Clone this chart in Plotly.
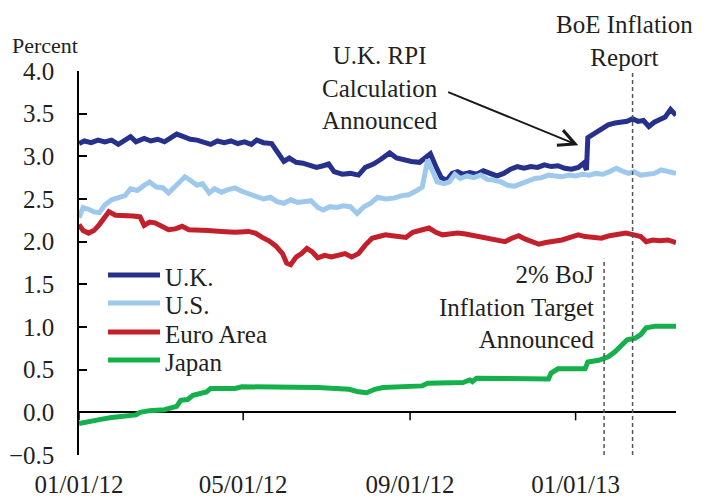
import plotly.graph_objects as go

# ---------------- data ----------------
uk_dates = ["2012-01-01","2012-01-05","2012-01-10","2012-01-15","2012-01-20","2012-01-25","2012-01-30","2012-02-04","2012-02-08","2012-02-12","2012-02-18","2012-02-23","2012-02-28","2012-03-04","2012-03-08","2012-03-13","2012-03-18","2012-03-23","2012-03-28","2012-04-02","2012-04-07","2012-04-12","2012-04-17","2012-04-22","2012-04-27","2012-05-02","2012-05-07","2012-05-11","2012-05-16","2012-05-22","2012-05-26","2012-05-31","2012-06-04","2012-06-09","2012-06-14","2012-06-19","2012-06-24","2012-06-29","2012-07-03","2012-07-07","2012-07-13","2012-07-19","2012-07-25","2012-07-30","2012-08-05","2012-08-10","2012-08-17","2012-08-22","2012-08-27","2012-09-02","2012-09-08","2012-09-13","2012-09-16","2012-09-20","2012-09-24","2012-09-28","2012-10-02","2012-10-06","2012-10-10","2012-10-15","2012-10-20","2012-10-25","2012-10-30","2012-11-04","2012-11-09","2012-11-14","2012-11-19","2012-11-24","2012-11-29","2012-12-04","2012-12-09","2012-12-14","2012-12-19","2012-12-24","2012-12-29","2013-01-03","2013-01-07","2013-01-09","2013-01-10","2013-01-13","2013-01-17","2013-01-21","2013-01-25","2013-01-30","2013-02-04","2013-02-08","2013-02-12","2013-02-16","2013-02-20","2013-02-24","2013-02-28","2013-03-04","2013-03-08","2013-03-12","2013-03-14","2013-03-16"]
uk_values = [3.15,3.18,3.16,3.19,3.17,3.19,3.14,3.20,3.23,3.17,3.21,3.18,3.20,3.17,3.21,3.26,3.23,3.20,3.19,3.17,3.14,3.18,3.16,3.18,3.15,3.17,3.14,3.19,3.16,3.15,3.06,2.94,2.98,2.93,2.92,2.90,2.87,2.89,2.91,2.82,2.79,2.80,2.78,2.87,2.91,2.96,3.04,2.98,2.96,2.94,2.93,3.00,3.03,2.88,2.75,2.72,2.80,2.82,2.79,2.81,2.79,2.83,2.80,2.77,2.80,2.85,2.88,2.86,2.88,2.87,2.90,2.88,2.89,2.86,2.85,2.87,2.92,2.84,3.22,3.25,3.30,3.33,3.37,3.39,3.40,3.41,3.44,3.41,3.42,3.35,3.40,3.43,3.46,3.55,3.51,3.48]

us_dates = ["2012-01-01","2012-01-04","2012-01-08","2012-01-12","2012-01-16","2012-01-20","2012-01-25","2012-01-30","2012-02-04","2012-02-08","2012-02-13","2012-02-18","2012-02-22","2012-02-27","2012-03-03","2012-03-07","2012-03-11","2012-03-15","2012-03-19","2012-03-23","2012-03-28","2012-04-01","2012-04-06","2012-04-10","2012-04-15","2012-04-20","2012-04-25","2012-04-30","2012-05-05","2012-05-10","2012-05-16","2012-05-21","2012-05-26","2012-05-31","2012-06-05","2012-06-10","2012-06-15","2012-06-20","2012-06-25","2012-06-29","2012-07-04","2012-07-09","2012-07-14","2012-07-19","2012-07-24","2012-07-29","2012-08-03","2012-08-08","2012-08-14","2012-08-20","2012-08-26","2012-08-31","2012-09-06","2012-09-10","2012-09-14","2012-09-17","2012-09-21","2012-09-26","2012-09-30","2012-10-04","2012-10-08","2012-10-13","2012-10-18","2012-10-23","2012-10-28","2012-11-02","2012-11-07","2012-11-12","2012-11-17","2012-11-22","2012-11-27","2012-12-02","2012-12-07","2012-12-12","2012-12-17","2012-12-22","2012-12-27","2013-01-01","2013-01-06","2013-01-11","2013-01-16","2013-01-21","2013-01-26","2013-01-31","2013-02-04","2013-02-09","2013-02-13","2013-02-18","2013-02-23","2013-02-28","2013-03-05","2013-03-10","2013-03-16"]
us_values = [2.28,2.40,2.38,2.35,2.34,2.43,2.49,2.52,2.54,2.62,2.60,2.66,2.70,2.64,2.63,2.57,2.63,2.70,2.76,2.72,2.66,2.68,2.57,2.62,2.58,2.61,2.63,2.59,2.56,2.53,2.50,2.52,2.47,2.45,2.49,2.46,2.47,2.48,2.40,2.37,2.41,2.40,2.42,2.41,2.33,2.41,2.45,2.52,2.50,2.51,2.54,2.55,2.60,2.64,2.96,2.85,2.70,2.68,2.70,2.79,2.74,2.77,2.75,2.78,2.73,2.72,2.70,2.66,2.65,2.68,2.71,2.74,2.75,2.78,2.77,2.76,2.78,2.77,2.79,2.78,2.80,2.79,2.82,2.86,2.83,2.80,2.82,2.78,2.79,2.80,2.84,2.82,2.80]

ea_dates = ["2012-01-01","2012-01-04","2012-01-08","2012-01-12","2012-01-16","2012-01-20","2012-01-23","2012-01-28","2012-02-03","2012-02-10","2012-02-15","2012-02-18","2012-02-22","2012-02-26","2012-03-02","2012-03-07","2012-03-12","2012-03-17","2012-03-22","2012-03-28","2012-04-05","2012-04-15","2012-04-25","2012-05-05","2012-05-10","2012-05-15","2012-05-20","2012-05-25","2012-05-30","2012-06-02","2012-06-05","2012-06-09","2012-06-13","2012-06-17","2012-06-21","2012-06-25","2012-06-30","2012-07-05","2012-07-10","2012-07-15","2012-07-20","2012-07-25","2012-07-30","2012-08-04","2012-08-09","2012-08-14","2012-08-19","2012-08-24","2012-08-29","2012-09-03","2012-09-09","2012-09-15","2012-09-20","2012-09-25","2012-09-30","2012-10-06","2012-10-12","2012-10-18","2012-10-24","2012-10-30","2012-11-05","2012-11-10","2012-11-15","2012-11-20","2012-11-25","2012-11-30","2012-12-05","2012-12-10","2012-12-16","2012-12-22","2012-12-28","2013-01-03","2013-01-08","2013-01-14","2013-01-20","2013-01-26","2013-02-01","2013-02-07","2013-02-13","2013-02-18","2013-02-22","2013-02-27","2013-03-04","2013-03-10","2013-03-16"]
ea_values = [2.20,2.13,2.10,2.13,2.20,2.28,2.35,2.31,2.31,2.30,2.29,2.19,2.23,2.22,2.18,2.14,2.15,2.18,2.14,2.13,2.13,2.12,2.11,2.12,2.10,2.05,2.01,1.95,1.86,1.75,1.73,1.82,1.86,1.92,1.88,1.81,1.84,1.82,1.84,1.86,1.82,1.86,1.96,2.04,2.06,2.08,2.07,2.06,2.05,2.11,2.13,2.16,2.11,2.08,2.09,2.10,2.09,2.07,2.06,2.04,2.02,2.00,2.04,2.07,2.03,2.00,1.97,1.99,2.00,2.02,2.05,2.08,2.06,2.05,2.04,2.07,2.09,2.10,2.08,2.06,2.00,2.02,2.01,2.02,1.99]

jp_dates = ["2012-01-01","2012-01-10","2012-01-18","2012-01-25","2012-02-05","2012-02-12","2012-02-15","2012-02-22","2012-03-04","2012-03-10","2012-03-13","2012-03-16","2012-03-21","2012-03-25","2012-03-31","2012-04-04","2012-04-07","2012-04-25","2012-04-30","2012-06-01","2012-06-25","2012-07-18","2012-07-25","2012-07-31","2012-08-06","2012-08-12","2012-08-25","2012-09-10","2012-09-14","2012-10-10","2012-10-15","2012-10-17","2012-10-20","2012-11-15","2012-12-12","2012-12-14","2012-12-19","2013-01-08","2013-01-10","2013-01-18","2013-01-25","2013-01-30","2013-02-03","2013-02-08","2013-02-14","2013-02-18","2013-02-22","2013-03-01","2013-03-16"]
jp_values = [-0.13,-0.11,-0.08,-0.06,-0.05,-0.03,0.00,0.02,0.03,0.05,0.07,0.14,0.15,0.20,0.22,0.24,0.28,0.28,0.30,0.30,0.29,0.27,0.24,0.23,0.27,0.29,0.30,0.31,0.34,0.35,0.38,0.36,0.40,0.39,0.39,0.46,0.51,0.51,0.59,0.61,0.65,0.71,0.78,0.85,0.87,0.91,0.99,1.01,1.01]

series_names = ["U.K.", "U.S.", "Euro Area", "Japan"]
series_colors = ["#27318b", "#9ec9ec", "#c4202b", "#14b04b"]

x_tick_vals = ["2012-01-01", "2012-05-01", "2012-09-01", "2013-01-01"]
x_tick_text = ["01/01/12", "05/01/12", "09/01/12", "01/01/13"]
y_tick_vals = [-0.5, 0.0, 0.5, 1.0, 1.5, 2.0, 2.5, 3.0, 3.5, 4.0]

event_dates = ["2013-01-22", "2013-02-12"]
event_tops = [1.8, 4.0]

# ---------------- layout geometry ----------------
# the page body adds an 8px margin, so the figure is sized to fit the window
OFF = 8
W, H = 703 - OFF, 500 - OFF
L, R, T, B = 79 - OFF, 27, 71 - OFF, 45
PW, PH = W - L - R, H - T - B

def px(x):
    """page pixel x -> paper fraction"""
    return (x - OFF - L) / PW

def py(y):
    """page pixel y -> paper fraction"""
    return (H - B - (y - OFF)) / PH

FONT = "Liberation Serif, Times New Roman, serif"
TXT = "#231f20"
FS = 25

fig = go.Figure()
all_series = [(uk_dates, uk_values), (us_dates, us_values), (ea_dates, ea_values), (jp_dates, jp_values)]
for (d, v), name, col in zip(all_series, series_names, series_colors):
    fig.add_trace(go.Scatter(x=d, y=v, mode="lines", name=name,
                             line=dict(color=col, width=5), showlegend=False))

shapes = []
# x-axis tick marks hanging below the zero line
for d in x_tick_vals:
    shapes.append(dict(type="line", xref="x", yref="y", x0=d, x1=d,
                       ysizemode="pixel", yanchor=0, y0=0, y1=-8,
                       line=dict(color="black", width=1.5)))
# event lines
for d, top in zip(event_dates, event_tops):
    shapes.append(dict(type="line", xref="x", yref="y", x0=d, x1=d, y0=-0.5, y1=top,
                       line=dict(color="#555555", width=1.5, dash="4px,3px")))

annotations = []
# legend drawn as line samples plus labels
leg_y = [275, 303, 332, 360]
for name, col, yy in zip(series_names, series_colors, leg_y):
    shapes.append(dict(type="line", xref="paper", yref="paper",
                       x0=px(108), x1=px(160), y0=py(yy), y1=py(yy),
                       line=dict(color=col, width=5)))
    annotations.append(dict(text=name, xref="paper", yref="paper", x=px(163), y=py(yy + 2),
                            xanchor="left", yanchor="middle", showarrow=False,
                            font=dict(family=FONT, size=FS, color=TXT)))

annotations += [
    dict(text="Percent", xref="paper", yref="paper", x=px(45), y=py(45),
         xanchor="center", yanchor="middle", showarrow=False,
         font=dict(family=FONT, size=22, color=TXT)),
    dict(text="U.K. RPI<br>Calculation<br>Announced", xref="paper", yref="paper",
         x=px(380), y=py(88), xanchor="center", yanchor="middle", showarrow=False,
         font=dict(family=FONT, size=FS, color=TXT)),
    dict(text="BoE Inflation<br>Report", xref="paper", yref="paper",
         x=px(624), y=py(41), xanchor="center", yanchor="middle", showarrow=False,
         font=dict(family=FONT, size=FS, color=TXT)),
    dict(text="2% BoJ<br>Inflation Target<br>Announced", xref="paper", yref="paper",
         x=px(596), y=py(307), xanchor="right", yanchor="middle", align="right",
         showarrow=False, font=dict(family=FONT, size=FS, color=TXT)),
    dict(text="", x="2013-01-03", y=3.13, ax="2012-09-28", ay=3.76,
         xref="x", yref="y", axref="x", ayref="y", showarrow=True,
         arrowhead=5, arrowsize=1.6, arrowwidth=2, arrowcolor="#1a1a1a"),
]

fig.update_layout(
    width=W, height=H,
    margin=dict(l=L, r=R, t=T, b=B, pad=0, autoexpand=False),
    paper_bgcolor="white", plot_bgcolor="white",
    showlegend=False,
    font=dict(family=FONT, size=FS, color=TXT),
    xaxis=dict(range=["2012-01-01", "2013-03-16"], tickvals=x_tick_vals, ticktext=x_tick_text,
               showline=False, showgrid=False, zeroline=False, ticks="", automargin=False,
               ticklabelstandoff=12, tickfont=dict(family=FONT, size=FS, color=TXT)),
    yaxis=dict(range=[-0.5, 4.0], tickvals=y_tick_vals, tickformat=".1f", automargin=False,
               showline=True, linecolor="black", linewidth=1.5,
               ticks="inside", ticklen=8, tickwidth=1.5, tickcolor="black",
               showgrid=False, zeroline=True, zerolinecolor="black", zerolinewidth=1.5,
               ticklabelstandoff=18, tickfont=dict(family=FONT, size=FS, color=TXT)),
    shapes=shapes,
    annotations=annotations,
)

fig.write_html("out.html")
